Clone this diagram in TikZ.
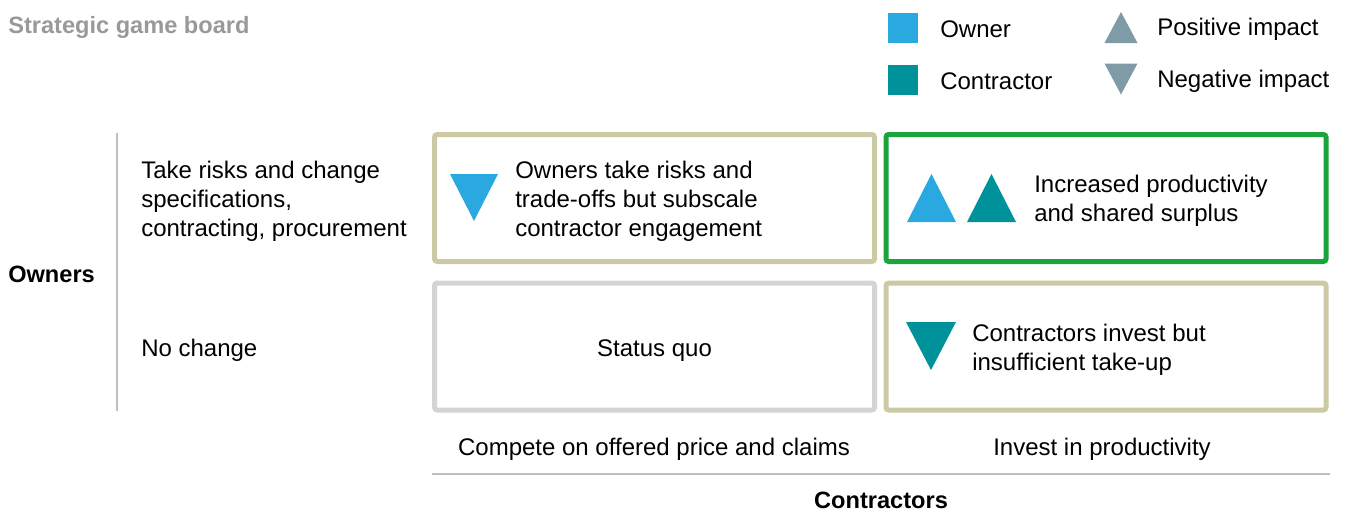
\documentclass[tikz,border=0pt]{standalone}
\usepackage{fontspec}
\setmainfont{Liberation Sans}
\usetikzlibrary{positioning}
\definecolor{ownerblue}{RGB}{41,169,224}
\definecolor{teal}{RGB}{0,146,155}
\definecolor{slate}{RGB}{127,155,166}
\definecolor{khaki}{RGB}{205,201,165}
\definecolor{okgreen}{RGB}{26,164,59}
\definecolor{boxgray}{RGB}{212,212,212}
\definecolor{rulegray}{RGB}{191,191,191}
\definecolor{titlegray}{RGB}{153,153,153}
\newcommand{\triup}[5]{\fill[#5] (#1-#3/2,#2+#4/2) -- (#1+#3/2,#2+#4/2) -- (#1,#2-#4/2) -- cycle;}
\newcommand{\tridown}[5]{\fill[#5] (#1-#3/2,#2-#4/2) -- (#1+#3/2,#2-#4/2) -- (#1,#2+#4/2) -- cycle;}

\begin{document}
\begin{tikzpicture}[x=0.75pt,y=-0.75pt,
    txt/.style={inner sep=0pt,font=\fontsize{18}{21.75}\selectfont,align=left},
    hdr/.style={inner sep=0pt,font=\fontsize{17.7}{21}\selectfont\bfseries},
    cell/.style={draw=#1,line width=3.75pt,rounded corners=2pt,minimum width=330pt,minimum height=95.25pt}]
  \useasboundingbox (0,0) rectangle (1346,511);
  % title
  \node[hdr,text=titlegray,anchor=west] (title) at (8,27) {Strategic game board};
  % legend
  \fill[ownerblue] (888,13) rectangle (918,43);
  \fill[teal] (888,65) rectangle (918,95);
  \node[txt,anchor=west] (lowner) at (940,29.5) {Owner};
  \node[txt,anchor=west] (lcontr) at (940,81.5) {Contractor};
  \triup{1121}{27.5}{33}{31}{slate}
  \tridown{1121}{79}{33}{31}{slate}
  \node[txt,anchor=west] (lpos) at (1157,29.5) {Positive impact};
  \node[txt,anchor=west] (lneg) at (1157,81.5) {Negative impact};
  % owners axis
  \coordinate (otop) at (117,133);
  \coordinate (obot) at (117,411);
  \draw[rulegray,line width=1.5pt] (otop) -- (obot);
  \node[hdr,anchor=west] (owners) at (8,274) {Owners};
  \node[txt,anchor=west] (rtop) at (141,201) {Take risks and change\\specifications,\\contracting, procurement};
  \node[txt,anchor=west] (rbot) at (141,350) {No change};
  % cells
  \foreach \n/\x/\y/\c in {tl/654.5/198/khaki, tr/1106/198/okgreen,
      bl/654.5/346.5/boxgray, br/1106/346.5/khaki}
    \node[cell=\c] (\n) at (\x,\y) {};
  \tridown{474}{197.5}{48}{47}{ownerblue}
  \node[txt,anchor=west] (ttl) at (515,201) {Owners take risks and\\trade-offs but subscale\\contractor engagement};
  \triup{931.5}{198}{49}{48}{ownerblue}
  \triup{991.5}{198}{49}{48}{teal}
  \node[txt,anchor=west] (ttr) at (1034,201) {Increased productivity\\and shared surplus};
  \node[txt] (tbl) at ([yshift=-3pt]bl) {Status quo};
  \tridown{931}{346}{50}{48}{teal}
  \node[txt,anchor=west] (tbr) at (972,349.5) {Contractors invest but\\insufficient take-up};
  % contractors axis
  \node[txt] (cleft) at (654,449) {Compete on offered price and claims};
  \node[txt] (cright) at (1102,449) {Invest in productivity};
  \coordinate (cl) at (432,474);
  \coordinate (cr) at (1330,474);
  \draw[rulegray,line width=1.5pt] (cl) -- (cr);
  \node[hdr] (contractors) at (881,500) {Contractors};
\end{tikzpicture}
\end{document}
